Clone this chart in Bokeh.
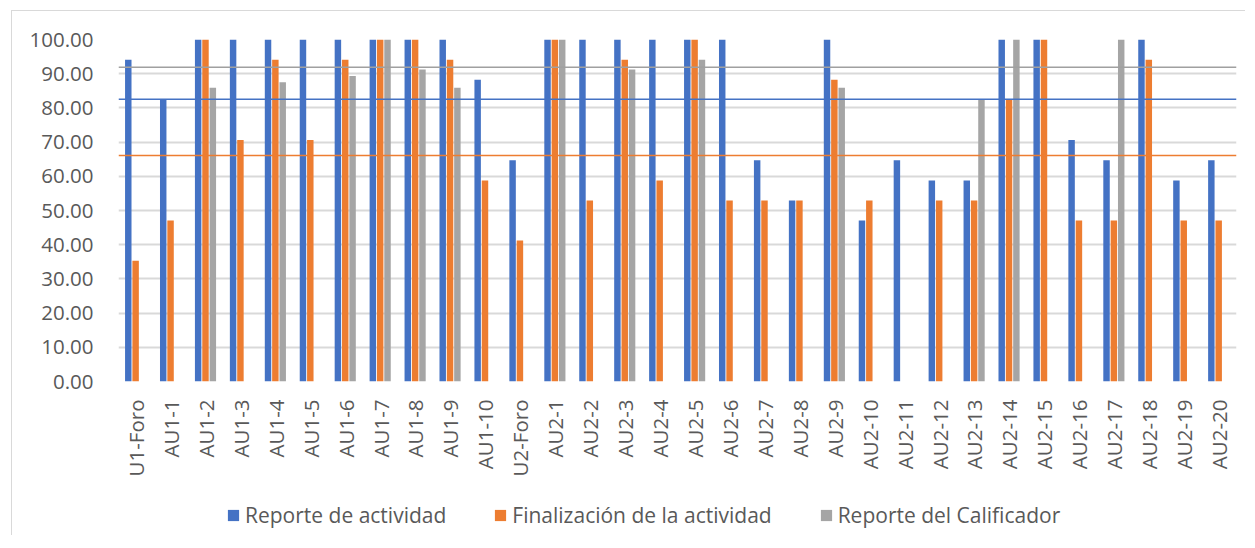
import math
from bokeh.plotting import figure
from bokeh.layouts import column
from bokeh.models import (ColumnDataSource, FactorRange, Span, Legend, LegendItem,
                          FixedTicker, NumeralTickFormatter)
from bokeh.transform import dodge
from bokeh.embed import file_html
from bokeh.resources import INLINE

categories = ["U1-Foro", "AU1-1", "AU1-2", "AU1-3", "AU1-4", "AU1-5", "AU1-6", "AU1-7",
              "AU1-8", "AU1-9", "AU1-10", "U2-Foro", "AU2-1", "AU2-2", "AU2-3", "AU2-4",
              "AU2-5", "AU2-6", "AU2-7", "AU2-8", "AU2-9", "AU2-10", "AU2-11", "AU2-12",
              "AU2-13", "AU2-14", "AU2-15", "AU2-16", "AU2-17", "AU2-18", "AU2-19", "AU2-20"]

reporte_actividad = [94.1, 82.4, 100, 100, 100, 100, 100, 100, 100, 100, 88.2, 64.7,
                     100, 100, 100, 100, 100, 100, 64.7, 52.9, 100, 47.1, 64.7, 58.8,
                     58.8, 100, 100, 70.6, 64.7, 100, 58.8, 64.7]
finalizacion = [35.3, 47.1, 100, 70.6, 94.1, 70.6, 94.1, 100, 100, 94.1, 58.8, 41.2,
                100, 52.9, 94.1, 58.8, 100, 52.9, 52.9, 52.9, 88.2, 52.9, 0, 52.9,
                52.9, 82.4, 100, 47.1, 47.1, 94.1, 47.1, 47.1]
reporte_calificador = [0, 0, 85.9, 0, 87.5, 0, 89.3, 100, 91.2, 85.9, 0, 0,
                       100, 0, 91.2, 0, 94.1, 0, 0, 0, 85.9, 0, 0, 0,
                       82.4, 100, 0, 0, 100, 0, 0, 0]

# reference (average) lines
ref_actividad = 82.5
ref_finalizacion = 66.1
ref_calificador = 91.9

series_names = ["Reporte de actividad", "Finalización de la actividad", "Reporte del Calificador"]
colors = ["#4472C4", "#ED7D31", "#A5A5A5"]

src = ColumnDataSource(dict(cat=categories, a=reporte_actividad, f=finalizacion,
                            c=reporte_calificador))

FONT = "Open Sans"
TXT = "#595959"

p = figure(x_range=FactorRange(*categories, range_padding=0), y_range=(0, 100),
           width=1233, height=479, output_backend="svg", toolbar_location=None,
           min_border_left=106, min_border_right=9, min_border_top=28,
           min_border_bottom=109)
p.outline_line_color = None

w = 0.185
r1 = p.vbar(x=dodge("cat", -0.22, range=p.x_range), top="a", width=w, source=src,
            fill_color=colors[0], line_color=None)
r2 = p.vbar(x=dodge("cat", -0.01, range=p.x_range), top="f", width=w, source=src,
            fill_color=colors[1], line_color=None)
r3 = p.vbar(x=dodge("cat", 0.20, range=p.x_range), top="c", width=w, source=src,
            fill_color=colors[2], line_color=None)

for val, col in [(ref_calificador, "#A0A0A0"), (ref_actividad, "#4472C4"),
                 (ref_finalizacion, "#ED7D31")]:
    p.add_layout(Span(location=val, dimension="width", line_color=col, line_width=1.5))

p.xgrid.grid_line_color = None
p.ygrid.grid_line_color = "#D9D9D9"
p.ygrid.grid_line_width = 2
p.yaxis.ticker = FixedTicker(ticks=list(range(0, 101, 10)))
p.yaxis.formatter = NumeralTickFormatter(format="0.00")

for ax in (p.xaxis[0], p.yaxis[0]):
    ax.axis_line_color = None
    ax.major_tick_line_color = None
    ax.minor_tick_line_color = None
    ax.major_label_text_font = FONT
    ax.major_label_text_color = TXT
p.yaxis.major_label_text_font_size = "20.5px"
p.yaxis.major_label_standoff = 19
p.xaxis.major_label_text_font_size = "20.5px"
p.xaxis.major_label_orientation = math.pi / 2
p.xaxis.major_label_standoff = 12

# legend strip below the chart (dummy zero-height renderers only supply legend swatches)
lg = figure(width=1233, height=45, output_backend="svg", toolbar_location=None,
            x_range=(0, 1), y_range=(0, 1), min_border=0,
            x_axis_location=None, y_axis_location=None)
lg.grid.grid_line_color = None
lg.outline_line_color = None
lr = [lg.vbar(x=[0.5], top=[0], width=0.1, fill_color=c, line_color=None) for c in colors]

legend = Legend(items=[LegendItem(label=n, renderers=[r]) for n, r in zip(series_names, lr)],
                orientation="horizontal", location=(108, 6),
                label_text_font=FONT, label_text_font_size="21px",
                label_text_color=TXT, glyph_width=14, glyph_height=14,
                label_standoff=5, spacing=47, border_line_color=None,
                background_fill_alpha=0, margin=0, padding=5)
lg.add_layout(legend, "center")

layout = column(p, lg, margin=(10, 0, 0, 11),
                styles={"border-left": "1.5px solid #D9D9D9",
                        "border-top": "1.5px solid #D9D9D9"})

open("out.html", "w").write(file_html(layout, INLINE))
